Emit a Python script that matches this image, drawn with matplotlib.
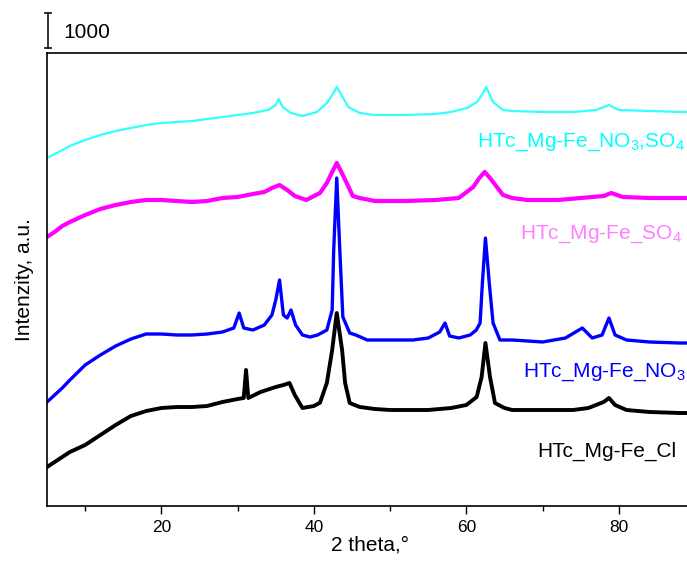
import matplotlib
matplotlib.use("Agg")
import matplotlib.pyplot as plt
from matplotlib.ticker import MultipleLocator

plt.rcParams['font.family'] = ['Liberation Sans', 'DejaVu Sans']
plt.rcParams['mathtext.fontset'] = 'custom'
plt.rcParams['mathtext.rm'] = 'Liberation Sans'
plt.rcParams['mathtext.it'] = 'Liberation Sans'

# ---------------- data (counts, vertical offsets included) ----------------
cl_x = [5, 6, 7, 8, 10, 12, 14, 16, 18, 20, 22, 24, 26, 28, 30, 30.8, 31.1, 31.4,
        33, 35, 36, 36.8, 37.5, 38.5, 40, 40.8, 41.7, 42.4, 43.0, 43.7, 44.1,
        44.7, 46, 48, 50, 55, 58, 60, 61.35, 62.0, 62.5, 63.1, 63.75, 65, 66,
        70, 74, 76, 78, 78.7, 79.5, 81, 84, 88, 90]
cl_y = [1114, 1257, 1400, 1543, 1743, 2028, 2314, 2571, 2714, 2800, 2828, 2828,
        2857, 2971, 3057, 3086, 3886, 3086, 3257, 3400, 3457, 3514, 3171, 2800,
        2857, 2950, 3514, 4457, 5514, 4457, 3514, 2943, 2830, 2771, 2743, 2743,
        2800, 2886, 3114, 3686, 4657, 3686, 2943, 2800, 2743, 2743, 2743, 2800,
        2971, 3086, 2886, 2743, 2686, 2657, 2657]

no3_x = [5, 6, 7, 8, 10, 12, 14, 16, 18, 20, 22, 24, 26, 28, 29.5, 30.2, 30.8,
         32, 33.5, 34.5, 35.0, 35.5, 36.0, 36.5, 37.0, 37.6, 38.5, 39.5, 40.5,
         41.7, 42.4, 42.6, 43.0, 43.4, 43.8, 44.7, 45.5, 47, 50, 53, 55, 56.5,
         57.2, 57.8, 59, 60.5, 61.3, 61.8, 62.1, 62.5, 63.0, 63.5, 64.4, 66, 70,
         73, 75.2, 76.5, 77.8, 78.7, 79.5, 81, 84, 88, 90]
no3_y = [2971, 3171, 3371, 3600, 4028, 4314, 4571, 4771, 4914, 4914, 4886, 4886,
         4914, 4971, 5086, 5514, 5086, 5028, 5171, 5457, 5886, 6457, 5457, 5371,
         5600, 5171, 4886, 4828, 4886, 5028, 5600, 7314, 9371, 7314, 5400, 4943,
         4886, 4743, 4743, 4743, 4800, 4971, 5228, 4857, 4800, 4886, 5028, 5228,
         6371, 7657, 6371, 5228, 4743, 4743, 4686, 4800, 5086, 4800, 4886, 5371,
         4886, 4743, 4686, 4657, 4657]

so4_x = [5, 6, 7, 8, 10, 12, 14, 16, 18, 20, 22, 24, 26, 28, 30, 32, 33.5, 34.5,
         35.5, 36.5, 37.5, 39, 40.8, 41.7, 42.4, 43.0, 43.6, 44.3, 45.1, 46, 48,
         52, 56, 59, 60.9, 61.7, 62.4, 63.1, 64.0, 64.8, 66, 68, 72, 75, 78, 79,
         80.5, 84, 88, 90]
so4_y = [7686, 7829, 8000, 8114, 8314, 8486, 8600, 8686, 8743, 8743, 8714, 8686,
         8714, 8800, 8829, 8914, 8971, 9086, 9171, 9029, 8857, 8743, 8943, 9229,
         9543, 9800, 9543, 9229, 8857, 8800, 8714, 8714, 8743, 8800, 9114, 9371,
         9543, 9371, 9114, 8886, 8800, 8743, 8743, 8800, 8857, 8943, 8829, 8800,
         8800, 8800]

mix_x = [5, 6, 7, 8, 10, 12, 14, 16, 18, 20, 22, 24, 26, 28, 30, 32, 34, 35.0,
         35.4, 35.9, 37, 38.5, 40.4, 41.7, 42.4, 43.0, 43.7, 44.5, 46, 48, 52,
         56, 58, 60.1, 61.4, 62.1, 62.6, 63.5, 64.8, 66, 70, 74, 77, 78.7, 80,
         84, 88, 90]
mix_y = [9943, 10057, 10171, 10286, 10457, 10600, 10714, 10800, 10886, 10943,
         10971, 11000, 11057, 11114, 11171, 11229, 11314, 11457, 11629, 11400,
         11229, 11143, 11257, 11514, 11743, 11971, 11714, 11400, 11229, 11171,
         11171, 11200, 11257, 11371, 11543, 11771, 11971, 11543, 11314, 11286,
         11257, 11257, 11314, 11457, 11314, 11286, 11257, 11257]

labels = ["HTc_Mg-Fe_Cl", r"HTc_Mg-Fe_NO$\mathregular{_3}$",
          r"HTc_Mg-Fe_SO$\mathregular{_4}$",
          r"HTc_Mg-Fe_NO$\mathregular{_3}$,SO$\mathregular{_4}$"]
line_colors = ["#000000", "#0000FF", "#FF00FF", "#33FFFF"]
label_colors = ["#000000", "#0000FF", "#FF80FF", "#00FFFF"]
xticks_major = [20, 40, 60, 80]
scale_value = 1000

# ---------------- figure ----------------
W, H = 687, 570
fig = plt.figure(figsize=(W / 100, H / 100), dpi=100)
ax_left, ax_bottom_px, ax_top_px = 47, 506, 53
px_per_deg = 7.625
x0, x1 = 5, 90
ax_w = (x1 - x0) * px_per_deg
ax = fig.add_axes([ax_left / W, 1 - ax_bottom_px / H, ax_w / W,
                   (ax_bottom_px - ax_top_px) / H])
ymax = (ax_bottom_px - ax_top_px) / 35 * 1000

series = [(cl_x, cl_y), (no3_x, no3_y), (so4_x, so4_y), (mix_x, mix_y)]
widths = [2.8, 2.4, 3.0, 1.6]
for (xs, ys), c, lw in zip(series, line_colors, widths):
    ax.plot(xs, ys, color=c, lw=lw, solid_joinstyle='round')

ax.set_xlim(x0, x1)
ax.set_ylim(0, ymax)
ax.set_xticks(xticks_major)
ax.xaxis.set_minor_locator(MultipleLocator(10))
ax.tick_params(axis='x', which='major', direction='out', length=6, width=1,
               labelsize=12.5, pad=4)
ax.tick_params(axis='x', which='minor', direction='out', length=3.5, width=1)
ax.set_yticks([])
for s in ['left', 'bottom', 'top', 'right']:
    ax.spines[s].set_linewidth(1.2)

# scale bar
y_sb0 = (ax_bottom_px - 48) / 35 * 1000
ax.plot([5.1, 5.1], [y_sb0, y_sb0 + scale_value], color='black', lw=1.1,
        marker='_', markersize=6, mew=1.1, clip_on=False)
fig.text(63 / W, 1 - 38 / H, str(scale_value), fontsize=15, ha='left',
         va='baseline')

# labels of traces
label_pos = [(537, 457), (523, 377), (520, 239), (477, 147)]
for (lx, ly), t, c in zip(label_pos, labels, label_colors):
    fig.text(lx / W, 1 - ly / H, t, color=c, fontsize=15, ha='left',
             va='baseline')

fig.text(370 / W, 1 - 545 / H, "2 theta,°", fontsize=15, ha='center',
         va='center')
fig.text(24 / W, 1 - 280 / H, "Intenzity, a.u.", fontsize=15, ha='center',
         va='center', rotation=90)

fig.savefig("out.png", dpi=100)
